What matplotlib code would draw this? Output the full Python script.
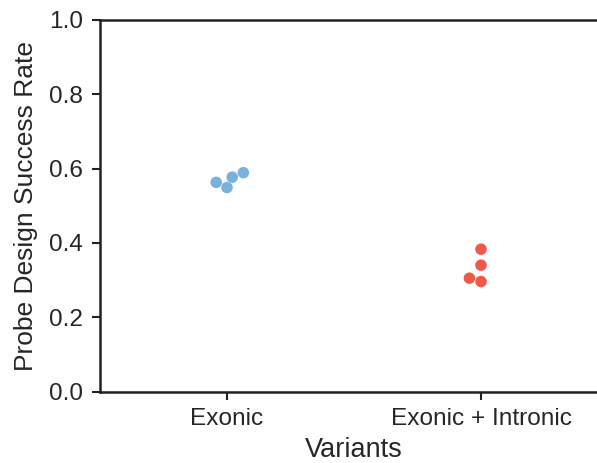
import matplotlib
matplotlib.use("Agg")
import matplotlib.pyplot as plt
import seaborn as sns
import pandas as pd

categories = ["Exonic", "Exonic + Intronic"]
exonic_values = [0.563, 0.549, 0.577, 0.589]
intronic_values = [0.383, 0.340, 0.305, 0.296]
colors = ["#78b1dc", "#ee5a45"]
yticks = [0.0, 0.2, 0.4, 0.6, 0.8, 1.0]

df = pd.DataFrame({
    "Variants": [categories[0]] * len(exonic_values) + [categories[1]] * len(intronic_values),
    "rate": exonic_values + intronic_values,
})

sns.set_style("ticks")
plt.rcParams['font.family'] = ['Liberation Sans', 'DejaVu Sans']

fig = plt.figure(figsize=(5.97, 4.63), dpi=100)
ax = fig.add_axes([100/597, 1 - 391.5/463, 508/597, 371.5/463])
sns.swarmplot(data=df, x="Variants", y="rate", hue="Variants", palette=colors,
              size=8.3, ax=ax, legend=False, order=categories)
ax.set_xlim(-0.5, 1.5)
ax.set_ylim(0, 1.0)
ax.set_yticks(yticks)
ax.set_yticklabels([f"{t:.1f}" for t in yticks])
ax.set_ylabel("Probe Design Success Rate", fontsize=19, labelpad=8)
ax.set_xlabel("Variants", fontsize=19.5, labelpad=5)
ax.tick_params(axis="both", labelsize=17.6, length=6, width=1.5, color="#222222", pad=6)
for s in ["left", "bottom", "top"]:
    ax.spines[s].set_linewidth(1.8)
    ax.spines[s].set_color("#222222")
ax.spines["right"].set_visible(False)
fig.savefig("out.png", dpi=100)
